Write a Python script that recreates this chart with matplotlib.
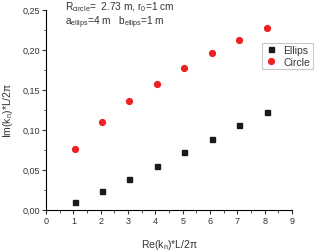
import matplotlib
matplotlib.use('Agg')
import matplotlib.pyplot as plt
from matplotlib.ticker import MultipleLocator, FuncFormatter

plt.rcParams['font.family'] = ['Liberation Sans', 'DejaVu Sans']
plt.rcParams['mathtext.default'] = 'regular'

# data
ellips_x = [1.05, 2.05, 3.05, 4.05, 5.06, 6.06, 7.07, 8.07]
ellips_y = [0.0093, 0.0234, 0.039, 0.055, 0.072, 0.089, 0.1055, 0.122]
circle_x = [1.05, 2.05, 3.05, 4.05, 5.06, 6.06, 7.07, 8.07]
circle_y = [0.0755, 0.109, 0.1355, 0.1575, 0.177, 0.1955, 0.2118, 0.2275]

fig = plt.figure(figsize=(3.2, 2.53), dpi=100)
ax = fig.add_axes([0.144, 0.167, 0.7685, 0.791])

ax.plot(ellips_x, ellips_y, 's', color='#1a1a1a', markersize=3.6, label='Ellips')
ax.plot(circle_x, circle_y, 'o', color='#ee2222', markersize=4.2, label='Circle')

ax.set_xlim(0, 9)
ax.set_ylim(0, 0.25)
ax.xaxis.set_major_locator(MultipleLocator(1))
ax.xaxis.set_minor_locator(MultipleLocator(0.5))
ax.yaxis.set_major_locator(MultipleLocator(0.05))
ax.yaxis.set_minor_locator(MultipleLocator(0.025))
ax.yaxis.set_major_formatter(FuncFormatter(lambda v, p: f'{v:.2f}'.replace('.', ',')))

for s in ['top', 'right']:
    ax.spines[s].set_visible(False)
for s in ['left', 'bottom']:
    ax.spines[s].set_linewidth(0.8)
ax.tick_params(which='major', direction='out', length=3, width=0.8, labelsize=6.5, colors='#333333', pad=1.5)
ax.tick_params(which='minor', direction='out', length=1.8, width=0.6, colors='#333333')

ax.set_xlabel(r'Re(k$_n$)*L/2$\pi$', fontsize=7.5, color='#333333', labelpad=9)
ax.set_ylabel(r'Im(k$_n$)*L/2$\pi$', fontsize=7.5, color='#333333', labelpad=5)

fig.text(0.203, 0.972, r'R$_{circle}$=  2.73 m, r$_0$=1 cm', fontsize=7.3, color='#333333', va='center')
fig.text(0.203, 0.908, r'a$_{ellips}$=4 m   b$_{ellips}$=1 m', fontsize=7.3, color='#333333', va='center')

leg = ax.legend(loc='upper left', bbox_to_anchor=(0.818, 0.828), bbox_transform=fig.transFigure,
                fontsize=7.5, frameon=True, fancybox=False, handletextpad=0.6, handlelength=1.2,
                borderpad=0.25, labelspacing=0.15, borderaxespad=0)
leg.get_frame().set_edgecolor('#bbbbbb')
leg.get_frame().set_linewidth(0.8)
for t in leg.get_texts():
    t.set_color('#333333')

fig.savefig('out.png', dpi=100)
